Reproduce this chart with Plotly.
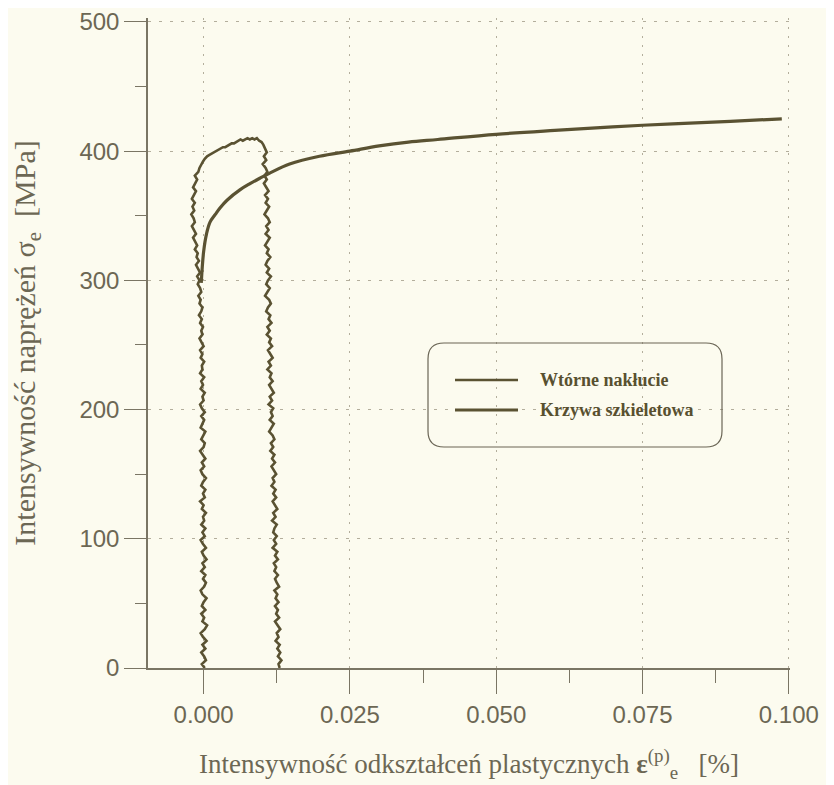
import plotly.graph_objects as go

# ---- data ----
# Secondary loading loop ("Wtórne nakłucie"): strain in units of 1e-4 %, stress in MPa
loop_left_y = [0, 3, 6, 9, 12, 15, 18, 21, 24, 27,
               30, 33, 36, 39, 42, 45, 48, 51, 54, 57,
               60, 63, 66, 69, 72, 75, 78, 81, 84, 87,
               90, 93, 96, 99, 102, 105, 108, 111, 114, 117,
               120, 123, 126, 129, 132, 135, 138, 141, 144, 147,
               150, 153, 156, 159, 162, 165, 168, 171, 174, 177,
               180, 183, 186, 189, 192, 195, 198, 201, 204, 207,
               210, 213, 216, 219, 222, 225, 228, 231, 234, 237,
               240, 243, 246, 249, 252, 255, 258, 261, 264, 267,
               270, 273, 276, 279, 282, 285, 288, 291, 294, 297,
               300, 303, 306, 309, 312, 315, 318, 321, 324, 327,
               330, 333, 336, 339, 342, 345, 348, 351, 354, 357,
               360, 363, 366, 369, 372, 375, 378, 381, 384, 387,
               390]
loop_left_x = [2, -3, 4, 1, -4, 3, -2, 5, -1, -5,
               2, 6, -2, 1, -4, 3, -3, 0, 5, -2,
               -5, 1, 4, -1, 3, -4, 2, -2, 5, 0,
               -3, 4, -1, -5, 2, -2, 3, -4, 1, -1,
               4, -3, 0, -6, 2, -1, 3, -4, -1, 4,
               -2, -5, 1, -3, 3, -1, -6, 0, 2, -4,
               -1, 3, -5, -2, 1, -4, 2, -3, -6, 0,
               -2, 2, -5, -1, -4, 1, -6, -2, -3, 1,
               -5, -2, -6, 0, -3, -7, -2, -4, -1, -6,
               -3, -8, -4, -2, -7, -5, -9, -4, -6, -10,
               -7, -11, -6, -9, -13, -8, -12, -10, -15, -11,
               -14, -18, -13, -16, -20, -15, -17, -21, -16, -19,
               -15, -20, -17, -13, -18, -14, -11, -15, -9, -7,
               -4]
loop_top_y = [392, 394, 396, 397, 398, 399, 400, 401, 402, 403, 403, 404, 405, 406, 406,
              407, 408, 409, 408, 409, 410, 409, 410, 409, 410, 408, 407, 405, 403]
loop_top_x = [-1, 2, 6, 10, 14, 18, 22, 25, 29, 33, 37, 40, 44, 48, 52,
              55, 59, 63, 67, 71, 75, 79, 83, 87, 91, 95, 99, 102, 104]
loop_right_y = [402, 399, 396, 393, 390, 387, 384, 381, 378, 375,
                372, 369, 366, 363, 360, 357, 354, 351, 348, 345,
                342, 339, 336, 333, 330, 327, 324, 321, 318, 315,
                312, 309, 306, 303, 300, 297, 294, 291, 288, 285,
                282, 279, 276, 273, 270, 267, 264, 261, 258, 255,
                252, 249, 246, 243, 240, 237, 234, 231, 228, 225,
                222, 219, 216, 213, 210, 207, 204, 201, 198, 195,
                192, 189, 186, 183, 180, 177, 174, 171, 168, 165,
                162, 159, 156, 153, 150, 147, 144, 141, 138, 135,
                132, 129, 126, 123, 120, 117, 114, 111, 108, 105,
                102, 99, 96, 93, 90, 87, 84, 81, 78, 75,
                72, 69, 66, 63, 60, 57, 54, 51, 48, 45,
                42, 39, 36, 33, 30, 27, 24, 21, 18, 15,
                12, 9, 6, 3, 0]
loop_right_x = [104, 108, 103, 107, 101, 106, 109, 104, 108, 103,
                107, 111, 105, 110, 106, 112, 108, 104, 110, 113,
                107, 111, 106, 113, 109, 105, 111, 108, 114, 109,
                106, 112, 108, 115, 110, 107, 113, 109, 105, 112,
                115, 110, 107, 114, 111, 116, 109, 113, 108, 115,
                112, 117, 110, 114, 118, 111, 115, 109, 116, 113,
                118, 112, 116, 120, 113, 117, 111, 119, 115, 118,
                113, 120, 116, 112, 118, 121, 115, 119, 114, 121,
                117, 122, 116, 120, 124, 118, 121, 116, 123, 119,
                124, 118, 122, 126, 119, 123, 117, 125, 121, 119,
                125, 120, 124, 118, 126, 122, 127, 120, 124, 121,
                127, 122, 125, 129, 121, 126, 123, 128, 122, 127,
                124, 129, 122, 127, 131, 125, 128, 123, 130, 126,
                131, 127, 133, 128, 130]

# Skeleton curve ("Krzywa szkieletowa"), strain in %, stress in MPa
skel_x = [-0.0004, 0.0000, 0.0005, 0.0011, 0.0020, 0.0028, 0.0040, 0.0062, 0.0080, 0.0096,
          0.0113, 0.0147, 0.0198, 0.0250, 0.0300, 0.0350, 0.0400, 0.0500, 0.0600, 0.0750,
          0.0900, 0.0988]
skel_y = [298, 322, 336, 345, 351, 356, 362, 370, 375, 379,
          383, 390, 396, 400, 404, 407, 409, 413, 416, 420,
          423, 425]

x_ticks = [0.0, 0.025, 0.05, 0.075, 0.1]
x_tick_labels = ["0.000", "0.025", "0.050", "0.075", "0.100"]
y_ticks = [0, 100, 200, 300, 400, 500]
y_tick_labels = ["0", "100", "200", "300", "400", "500"]

series_names = ["Wtórne nakłucie", "Krzywa szkieletowa"]

# ---- styling ----
BG = "#FCFBEF"
LINE = "#5A5232"
TEXT = "#6C6754"
AXIS = "#7A7564"
GRID = "#B3AE9C"
LOOP_W = 2.6
SKEL_W = 3.2

loop_x = [v * 1e-4 for v in loop_left_x + loop_top_x + loop_right_x]
loop_y = loop_left_y + loop_top_y + loop_right_y

fig = go.Figure()
fig.add_trace(go.Scatter(x=loop_x, y=loop_y, mode="lines", name=series_names[0],
                         showlegend=False, line=dict(color=LINE, width=LOOP_W)))
fig.add_trace(go.Scatter(x=skel_x, y=skel_y, mode="lines", name=series_names[1],
                         showlegend=False, line_shape="spline",
                         line=dict(color=LINE, width=SKEL_W)))

# page body adds an 8px offset, so the figure is 8px smaller and margins shifted
OFF = 8
W, H = 834 - OFF, 785 - OFF
L, R, T, B = 148 - OFF, 44, 18 - OFF, 117
pw, ph = W - L - R, H - T - B


def px2paper_x(px):
    return (px - OFF - L) / pw


def px2paper_y(py):
    return (H - B - (py - OFF)) / ph


# legend: rounded frame, line samples and labels
x0, x1 = px2paper_x(428), px2paper_x(722)
y0, y1 = px2paper_y(447), px2paper_y(343)
rx, ry = 16 / pw, 16 / ph
path = (f"M {x0+rx},{y1} L {x1-rx},{y1} Q {x1},{y1} {x1},{y1-ry} "
        f"L {x1},{y0+ry} Q {x1},{y0} {x1-rx},{y0} L {x0+rx},{y0} "
        f"Q {x0},{y0} {x0},{y0+ry} L {x0},{y1-ry} Q {x0},{y1} {x0+rx},{y1} Z")
fig.add_shape(type="path", path=path, xref="paper", yref="paper",
              line=dict(color="#6A6555", width=1.2), fillcolor="rgba(0,0,0,0)", layer="above")

legend_rows = [(380, LOOP_W), (410, SKEL_W)]
for name, (ypx, lw) in zip(series_names, legend_rows):
    fig.add_shape(type="line", xref="paper", yref="paper",
                  x0=px2paper_x(455), x1=px2paper_x(518),
                  y0=px2paper_y(ypx), y1=px2paper_y(ypx),
                  line=dict(color=LINE, width=lw))
    fig.add_annotation(x=px2paper_x(538), y=px2paper_y(ypx), xref="paper", yref="paper",
                       text=name, showarrow=False, xanchor="left", yanchor="middle",
                       font=dict(family="Liberation Serif", size=18, color="#58502F",
                                 weight="bold"))

fig.update_layout(
    width=W, height=H,
    margin=dict(l=L, r=R, t=T, b=B, autoexpand=False),
    paper_bgcolor=BG, plot_bgcolor=BG,
    showlegend=False,
    xaxis=dict(range=[-0.0095, 0.1002], tickvals=x_ticks, ticktext=x_tick_labels,
               automargin=False, ticklabeloverflow="allow",
               showline=True, linecolor=AXIS, linewidth=1.5,
               ticks="outside", ticklen=24, tickwidth=1.3, tickcolor=AXIS,
               tickfont=dict(family="Liberation Sans", size=24, color=TEXT),
               showgrid=True, gridcolor=GRID, gridwidth=1, griddash="2px,7px",
               zeroline=False,
               minor=dict(dtick=0.0125, tick0=0, ticks="outside", ticklen=13,
                          tickwidth=1.2, tickcolor=AXIS, showgrid=False),
               title=dict(text="Intensywność odkształceń plastycznych <b>ε</b><sup>(p)</sup><sub>e</sub>   [%]",
                          font=dict(family="Liberation Serif", size=27, color=TEXT),
                          standoff=28)),
    yaxis=dict(range=[0, 503], tickvals=y_ticks, ticktext=y_tick_labels,
               automargin=False, ticklabeloverflow="allow",
               showline=True, linecolor=AXIS, linewidth=1.5,
               ticks="outside", ticklen=22, tickwidth=1.3, tickcolor=AXIS,
               tickfont=dict(family="Liberation Sans", size=24, color=TEXT),
               showgrid=True, gridcolor=GRID, gridwidth=1, griddash="3px,8px",
               zeroline=False,
               minor=dict(dtick=50, tick0=0, ticks="outside", ticklen=11,
                          tickwidth=1.2, tickcolor=AXIS, showgrid=False),
               title=dict(text="Intensywność naprężeń σ<sub>e</sub>  [MPa]",
                          font=dict(family="Liberation Serif", size=30, color=TEXT),
                          standoff=46)),
)

fig.write_html("out.html")
